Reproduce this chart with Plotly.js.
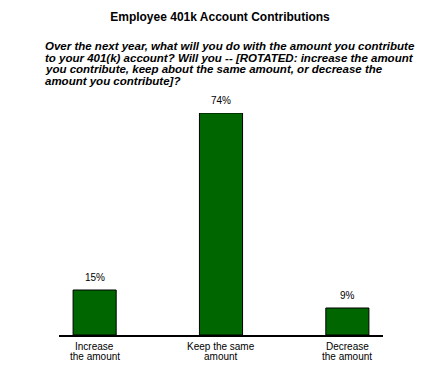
<!DOCTYPE html>
<html><head><meta charset="utf-8">
<script src="https://cdn.plot.ly/plotly-3.0.1.min.js"></script>
<style>html,body{margin:0;padding:0;background:#fff;}#chart{width:440px;height:365px;}</style>
</head><body><div id="chart"></div>
<script>
const categories = ["Increase", "Keep", "Decrease"];
const tickLabelLines = [["Increase", "the amount"], ["Keep the same", "amount"], ["Decrease", "the amount"]];
const values = [15, 74, 9];
const valueLabels = ["15%", "74%", "9%"];
const chartTitle = "Employee 401k Account Contributions";
const questionLines = [
  "Over the next year, what will you do with the amount you contribute",
  "to your 401(k) account? Will you -- [ROTATED: increase the amount",
  "you contribute, keep about the same amount, or decrease the",
  "amount you contribute]?"
];

const font = "Liberation Sans, Arial, sans-serif";
const W = 440, H = 365, L = 59, R = 57, T = 113, B = 30;
const plotW = W - L - R, plotH = H - T - B;

const annotations = categories.map((c, i) => ({
  x: c, y: values[i], xref: 'x', yref: 'y', text: valueLabels[i], showarrow: false,
  yanchor: 'bottom', yshift: 5, font: {family: font, size: 10, color: '#000'}
}));
// question lines
questionLines.forEach((line, i) => {
  const py = 46 + i * 11.5;
  annotations.push({
    xref: 'paper', yref: 'paper', x: (43 - L) / plotW, y: 1 + (T - py) / plotH,
    xanchor: 'left', yanchor: 'middle', align: 'left', showarrow: false,
    text: '<b><i>' + line + '</i></b>', font: {family: font, size: 11.5, color: '#000'}
  });
});
// category labels (two lines each)
tickLabelLines.forEach((lines, i) => {
  lines.forEach((line, j) => {
    const py = 346 + j * 10.5;
    annotations.push({
      x: categories[i], xref: 'x', yref: 'paper', y: -(py - (H - B)) / plotH,
      xanchor: 'center', yanchor: 'middle', showarrow: false,
      text: line, font: {family: font, size: 10, color: '#000'}
    });
  });
});

Plotly.newPlot('chart', [{
  type: 'bar', x: categories, y: values, width: 0.341,
  marker: {color: '#006600', line: {color: '#000', width: 1}},
  hoverinfo: 'none'
}], {
  width: W, height: H,
  margin: {l: L, r: R, t: T, b: B, pad: 0},
  paper_bgcolor: '#fff', plot_bgcolor: '#fff',
  title: {text: '<b>' + chartTitle + '</b>', x: 0.5, xanchor: 'center', y: 1 - 17/365, yanchor: 'middle', yref: 'container',
    font: {family: font, size: 12, color: '#000'}},
  xaxis: {type: 'category', range: [-0.282, 2.282], showticklabels: false,
    showline: true, linecolor: '#000', linewidth: 2, ticks: '', showgrid: false, zeroline: false, fixedrange: true},
  yaxis: {range: [0, 74], visible: false, showgrid: false, zeroline: false, fixedrange: true},
  annotations: annotations,
  showlegend: false
}, {displayModeBar: false, staticPlot: true});
</script>
</body></html>
